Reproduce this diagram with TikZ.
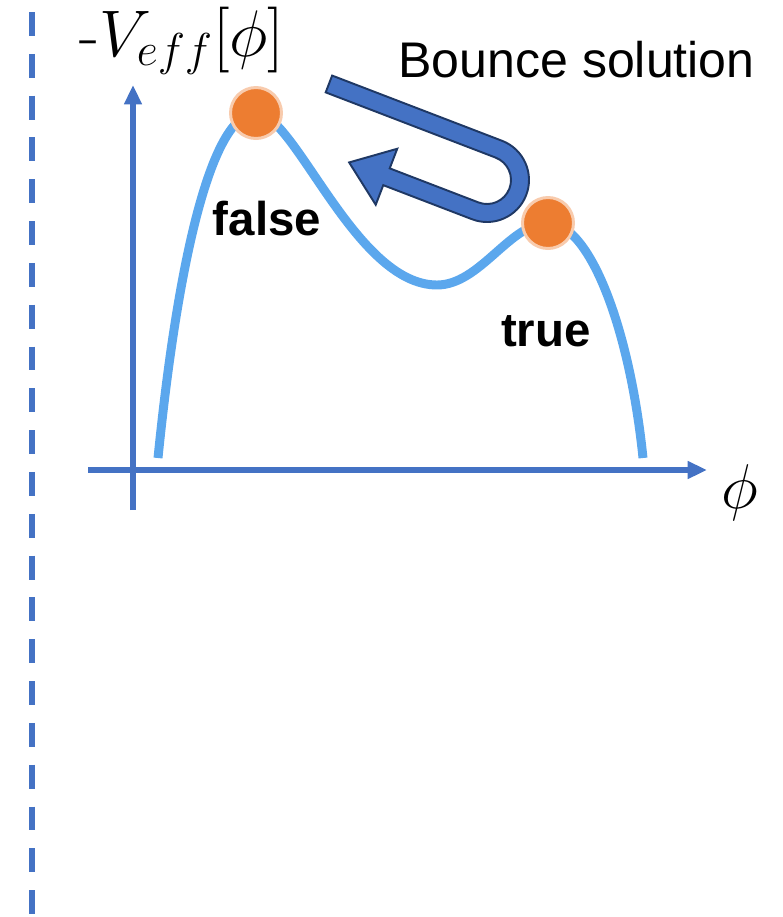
\RequirePackage{fix-cm}
\documentclass[tikz,border=0pt]{standalone}
\usepackage{fontspec}
\setmainfont{Liberation Sans}
\newfontfamily\lmfont{Latin Modern Roman}
\usetikzlibrary{arrows.meta}

\definecolor{axisblue}{RGB}{68,114,196}
\definecolor{curveblue}{RGB}{91,167,237}
\definecolor{vacorange}{RGB}{237,125,49}
\definecolor{vacrim}{RGB}{248,203,173}
\definecolor{bouncerim}{RGB}{31,56,100}

\begin{document}
\begin{tikzpicture}[x=0.02cm, y=-0.02cm,
  axis/.style={draw=axisblue, line width=3.4pt, -{Triangle[length=11pt, width=9.6pt]}},
  divider/.style={draw=axisblue, line width=3.4pt, dash pattern=on 13.6pt off 10.2pt},
  pot/.style={draw=curveblue, line width=5.1pt},
  vac/.style={circle, fill=vacorange, draw=vacrim, line width=1.7pt, minimum size=1.02cm, inner sep=0pt},
  lbl/.style={font=\fontsize{27}{30}\selectfont\bfseries, inner sep=0pt},
  mathlbl/.style={inner sep=0pt, font=\fontsize{36}{40}\selectfont},
  bounce/.style={fill=axisblue, draw=bouncerim, line width=1.1pt, line join=miter}
]
\useasboundingbox (0,0) rectangle (782,917);

% Dashed divider on the left
\coordinate (dtop) at (32,12);
\coordinate (dbot) at (32,917);
\draw[divider] (dtop) -- (dbot);

% Axes
\coordinate (ybot) at (133,510);
\coordinate (ytop) at (133,85);
\coordinate (xleft) at (88,470);
\coordinate (xright) at (707,470);
\draw[axis] (ybot) -- (ytop);
\draw[axis] (xleft) -- (xright);

% Axis labels
\node[mathlbl, anchor=base west, font=\fontsize{37.5}{42}\selectfont] (ylab) at (79,56) {{\lmfont -}$V_{eff}[\phi]$};
\node[mathlbl, anchor=base] (xlab) at (740,508) {$\phi$};

% Potential
\coordinate (pstart) at (158,458);
\coordinate (pmin) at (437,285);
\coordinate (pend) at (643,458);
\draw[pot] (pstart) .. controls (180,240) and (215,113) .. (256,113)
  .. controls (295,113) and (355,285) .. (pmin)
  .. controls (480,285) and (510,223) .. (548,223)
  .. controls (590,223) and (630,330) .. (pend);

% Vacua
\node[vac] (fv) at (256,113) {};
\node[vac] (tv) at (548,223) {};
\node[lbl, anchor=base] (fvlab) at (267,235) {false};
\node[lbl, anchor=base] (tvlab) at (546,346) {true};

% Bounce arrow
\begin{scope}[shift={(487,180)}, rotate=-21]
  \draw[bounce] (-182,-42) -- (0,-42) arc[start angle=-90, end angle=90, radius=42]
    -- (-95,42) -- (-95,63) -- (-135,33) -- (-95,3) -- (-95,24) -- (0,24)
    arc[start angle=90, end angle=-90, radius=24] -- (-182,-24) -- cycle;
\end{scope}
\node[anchor=base west, inner sep=0pt, font=\fontsize{28.5}{32}\selectfont] (bounce) at (398,77) {Bounce solution};
\end{tikzpicture}
\end{document}
